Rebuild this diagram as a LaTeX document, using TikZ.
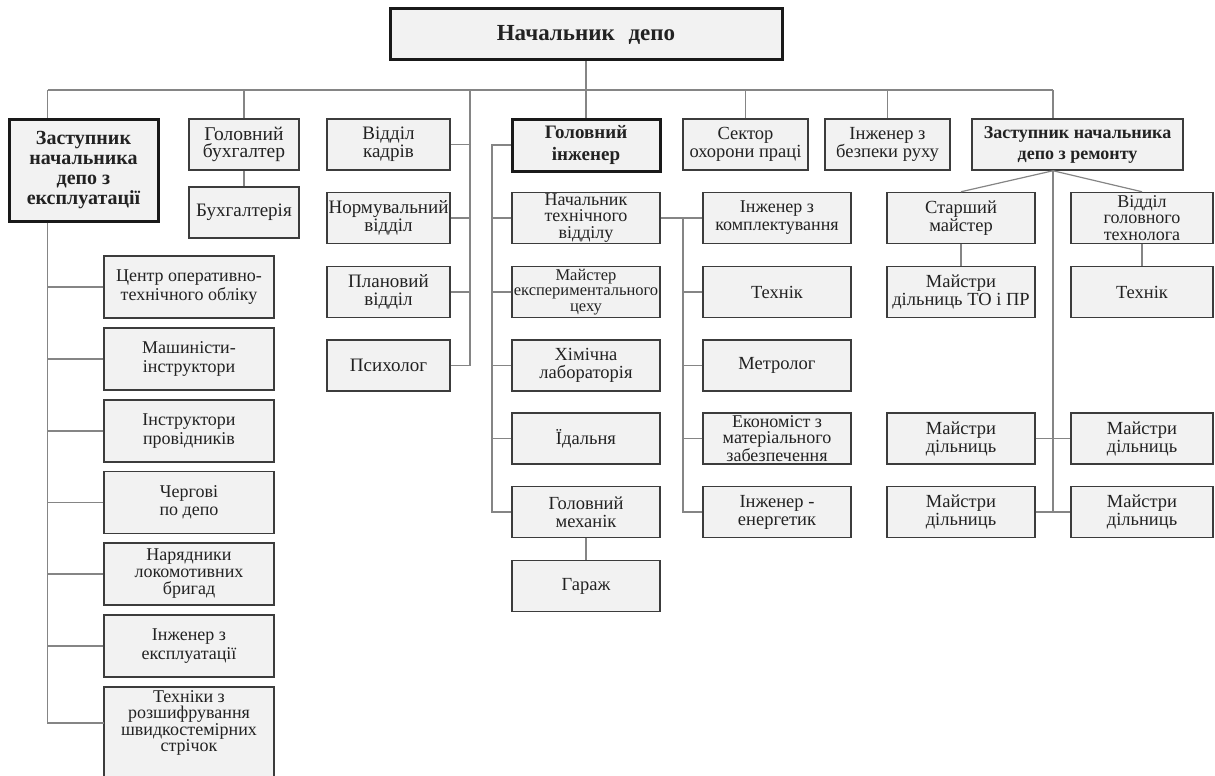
\documentclass[tikz,border=0pt]{standalone}
\usepackage{fontspec}
\setmainfont{Liberation Serif}
\definecolor{boxfill}{HTML}{F2F2F2}
\definecolor{boxline}{HTML}{3C3C3C}
\definecolor{connline}{HTML}{858585}
\definecolor{txt}{HTML}{222222}
\newcommand{\myfs}[2]{\fontsize{#1pt}{#2pt}\selectfont}
\tikzset{
  box/.style={draw=boxline, line width=1.5pt, fill=boxfill, align=center, inner sep=0pt,
    font=\myfs{18.5}{18}, text=txt},
  tbox/.style={box, font=\myfs{18}{16.5}},
  bigbox/.style={box, draw=black!90, line width=3pt, font=\bfseries\myfs{19}{21}},
  conn/.style={draw=connline, line width=1.2pt},
}
\begin{document}
\begin{tikzpicture}[x=1pt,y=-1pt]
\useasboundingbox (0,0) rectangle (1215,776);
% top
\node[bigbox, minimum width=392pt, minimum height=51pt, font=\bfseries\myfs{23}{25}] (top) at (586,34.5) {Начальник\hspace{0.6em}депо};
% row A
\node[bigbox, minimum width=149pt, minimum height=102pt, font=\bfseries\myfs{20}{20}] (zexp) at (83.5,170) {Заступник\\начальника\\депо з\\експлуатації};
\node[box, minimum width=110pt, minimum height=51pt, font=\myfs{19.5}{17.5}] (gbuh) at (244,144.5) {Головний\\бухгалтер};
\node[box, minimum width=110pt, minimum height=51pt, font=\myfs{19}{18}] (buh) at (244,212.5) {Бухгалтерія};
\node[box, minimum width=123pt, minimum height=51pt, font=\myfs{19}{18}] (kadr) at (388.5,144.5) {Відділ\\кадрів};
\node[box, minimum width=123pt, minimum height=51pt, font=\myfs{19}{18}] (norm) at (388.5,218) {Нормувальний\\відділ};
\node[box, minimum width=123pt, minimum height=51pt, font=\myfs{19}{18}] (plan) at (388.5,292) {Плановий\\відділ};
\node[box, minimum width=123pt, minimum height=51pt, font=\myfs{19}{18}] (psych) at (388.5,365.5) {Психолог};
\node[bigbox, minimum width=148pt, minimum height=52pt, font=\bfseries\myfs{19}{22}] (gi) at (586,145) {Головний\\інженер};
\node[tbox, minimum width=148pt, minimum height=51pt] (ntv) at (586,218) {Начальник\\технічного\\відділу};
\node[tbox, minimum width=148pt, minimum height=51pt, font=\myfs{16.5}{15.5}] (mec) at (586,292) {Майстер\\експериментального\\цеху};
\node[box, minimum width=148pt, minimum height=51pt] (chem) at (586,365.5) {Хімічна\\лабораторія};
\node[box, minimum width=148pt, minimum height=51pt] (idal) at (586,438.5) {Їдальня};
\node[box, minimum width=148pt, minimum height=51pt] (gmech) at (586,512) {Головний\\механік};
\node[box, minimum width=148pt, minimum height=51pt] (garage) at (586,586) {Гараж};
\node[box, minimum width=148pt, minimum height=51pt, font=\myfs{18}{18}] (ikompl) at (777,218) {Інженер з\\комплектування};
\node[box, minimum width=148pt, minimum height=51pt] (tech1) at (777,292) {Технік};
\node[box, minimum width=148pt, minimum height=51pt] (metr) at (777,365.5) {Метролог};
\node[tbox, minimum width=148pt, minimum height=51pt] (econ) at (777,438.5) {Економіст з\\матеріального\\забезпечення};
\node[box, minimum width=148pt, minimum height=51pt] (energ) at (777,512) {Інженер -\\енергетик};
\node[box, minimum width=125pt, minimum height=51pt] (sector) at (745.5,144.5) {Сектор\\охорони праці};
\node[box, minimum width=125pt, minimum height=51pt] (bezp) at (887.5,144.5) {Інженер з\\безпеки руху};
\node[box, minimum width=211pt, minimum height=51pt, font=\bfseries\myfs{18}{21}] (zrem) at (1077.5,144.5) {Заступник начальника\\депо з ремонту};
\node[box, minimum width=148pt, minimum height=51pt] (stm) at (961,218) {Старший\\майстер};
\node[tbox, minimum width=142pt, minimum height=51pt] (tech) at (1142,218) {Відділ\\головного\\технолога};
\node[box, minimum width=148pt, minimum height=51pt] (mto) at (961,292) {Майстри\\дільниць ТО і ПР};
\node[box, minimum width=142pt, minimum height=51pt] (tech2) at (1142,292) {Технік};
\node[box, minimum width=148pt, minimum height=51pt] (md1) at (961,438.5) {Майстри\\дільниць};
\node[box, minimum width=142pt, minimum height=51pt] (md2) at (1142,438.5) {Майстри\\дільниць};
\node[box, minimum width=148pt, minimum height=51pt] (md3) at (961,512) {Майстри\\дільниць};
\node[box, minimum width=142pt, minimum height=51pt] (md4) at (1142,512) {Майстри\\дільниць};
% left column
\node[box, minimum width=170pt, minimum height=62pt, font=\myfs{18}{18.5}] (c1) at (189,287) {Центр оперативно-\\технічного обліку};
\node[box, minimum width=170pt, minimum height=62pt, font=\myfs{18}{18.5}] (c2) at (189,359) {Машиністи-\\інструктори};
\node[box, minimum width=170pt, minimum height=62pt, font=\myfs{18}{18.5}] (c3) at (189,431) {Інструктори\\провідників};
\node[box, minimum width=170pt, minimum height=62pt, font=\myfs{18}{18.5}] (c4) at (189,502.5) {Чергові\\по депо};
\node[box, minimum width=170pt, minimum height=62pt, font=\myfs{18}{17}] (c5) at (189,574) {Нарядники\\локомотивних\\бригад};
\node[box, minimum width=170pt, minimum height=62pt, font=\myfs{18}{18.5}] (c6) at (189,646) {Інженер з\\експлуатації};
\draw[draw=boxline, line width=1.5pt, fill=boxfill] (104,687) rectangle (274,790);
\node[align=center, inner sep=0pt, font=\myfs{18}{16.5}, text=txt, minimum width=170pt, minimum height=74pt] (c7) at (189,723) {Техніки з\\розшифрування\\швидкостемірних\\стрічок};
% connectors
\coordinate (L) at (47.5,90);
\coordinate (R) at (1053,90);
\coordinate (kt) at (470,90);
\coordinate (gl) at (492,145);
\coordinate (rt) at (683,218);
\draw[conn] (L) -- (R);
\draw[conn] (L) -- (L |- zexp.north);
\draw[conn] (gbuh.north) -- (gbuh.north |- L);
\draw[conn] (gbuh.south) -- (buh.north);
\draw[conn] (kt) -- (kt |- psych.east) -- (psych.east);
\draw[conn] (kadr.east) -- (kadr.east -| kt);
\draw[conn] (norm.east) -- (norm.east -| kt);
\draw[conn] (plan.east) -- (plan.east -| kt);
\draw[conn] (top.south) -- (gi.north);
\draw[conn] (sector.north) -- (sector.north |- L);
\draw[conn] (bezp.north) -- (bezp.north |- L);
\draw[conn] (R) -- (R |- zrem.north);
% chief engineer
\draw[conn] (gi.west) -- (gi.west -| gl) -- (gl |- gmech.west) -- (gmech.west);
\draw[conn] (ntv.west) -- (ntv.west -| gl);
\draw[conn] (mec.west) -- (mec.west -| gl);
\draw[conn] (chem.west) -- (chem.west -| gl);
\draw[conn] (idal.west) -- (idal.west -| gl);
\draw[conn] (gmech.south) -- (garage.north);
\draw[conn] (ntv.east) -- (ikompl.west);
\draw[conn] (rt) -- (rt |- energ.west) -- (energ.west);
\draw[conn] (tech1.west) -- (tech1.west -| rt);
\draw[conn] (metr.west) -- (metr.west -| rt);
\draw[conn] (econ.west) -- (econ.west -| rt);
% repair deputy
\coordinate (zb) at (zrem.south -| R);
\draw[conn] (zb) -- (stm.north);
\draw[conn] (zb) -- (tech.north);
\draw[conn] (zb) -- (zb |- md3.east);
\draw[conn] (stm.south) -- (mto.north);
\draw[conn] (tech.south) -- (tech2.north);
\draw[conn] (md1.east) -- (md2.west);
\draw[conn] (md3.east) -- (md4.west);
% left column
\coordinate (zl) at (zexp.south -| L);
\draw[conn] (zl) -- (zl |- c7.west) -- (c7.west);
\foreach \n in {c1,c2,c3,c4,c5,c6} \draw[conn] (\n.west) -- (\n.west -| zl);
\end{tikzpicture}
\end{document}
